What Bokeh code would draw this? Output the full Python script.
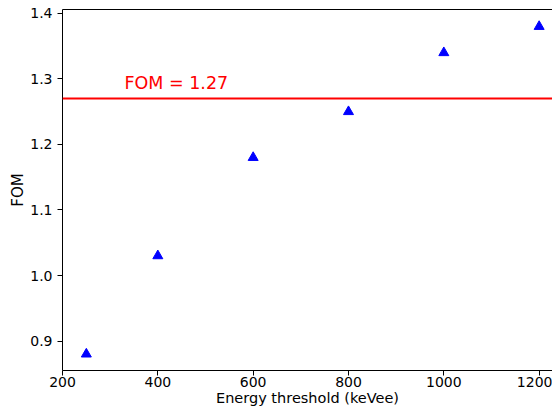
from bokeh.plotting import figure
from bokeh.models import Range1d, FixedTicker, LinearAxis, Span, Label
from bokeh.embed import file_html
from bokeh.resources import INLINE

# Data
thresholds = [250, 400, 600, 800, 1000, 1200]
fom_values = [0.88, 1.03, 1.18, 1.25, 1.34, 1.38]
fom_ref = 1.27
fom_ref_label = "FOM = 1.27"
x_ticks = [200, 400, 600, 800, 1000, 1200]
y_ticks = [0.9, 1.0, 1.1, 1.2, 1.3, 1.4]

FONT = "DejaVu Sans"

p = figure(width=552, height=408, output_backend="svg", toolbar_location=None,
           x_range=Range1d(200, 1228), y_range=Range1d(0.855, 1.406),
           min_border_left=62, min_border_right=0, min_border_top=9, min_border_bottom=37,
           x_axis_label="Energy threshold (keVee)", y_axis_label="FOM")
p.grid.visible = False
p.outline_line_color = None
p.background_fill_color = "white"
p.border_fill_color = "white"

for ax in (p.xaxis[0], p.yaxis[0]):
    ax.axis_line_color = "black"
    ax.axis_line_width = 1
    ax.major_tick_line_color = "black"
    ax.major_tick_out = 5
    ax.major_tick_in = 0
    ax.minor_tick_line_color = None
    ax.major_label_text_font = FONT
    ax.major_label_text_font_size = "14px"
    ax.major_label_text_color = "black"
    ax.axis_label_text_font = FONT
    ax.axis_label_text_font_size = "15px"
    ax.axis_label_text_font_style = "normal"
    ax.axis_label_text_color = "black"

p.xaxis[0].axis_label_text_font_size = "14.5px"
p.xaxis[0].ticker = FixedTicker(ticks=x_ticks)
p.yaxis[0].ticker = FixedTicker(ticks=y_ticks)
p.xaxis[0].major_label_standoff = 1
p.yaxis[0].major_label_standoff = 5
p.xaxis[0].axis_label_standoff = 0
p.yaxis[0].axis_label_standoff = 0
p.yaxis[0].major_label_overrides = {t: f"{t:.1f}" for t in y_ticks}

# top spine
top = LinearAxis(ticker=FixedTicker(ticks=[]), major_label_text_font_size="0px",
                 major_tick_out=0, major_tick_in=0, minor_tick_out=0, minor_tick_in=0,
                 major_label_standoff=0, axis_line_color="black")
p.add_layout(top, "above")

p.add_layout(Span(location=fom_ref, dimension="width", line_color="#ff0000", line_width=2))

p.scatter(thresholds, fom_values, marker="triangle", size=10,
          fill_color="#0000ff", line_color="#0000ff")

p.add_layout(Label(x=330, y=1.294, text=fom_ref_label, text_color="#ff0000",
                   text_font=FONT, text_font_size="17.5px", text_baseline="alphabetic"))

open("out.html", "w").write(file_html(p, INLINE))
